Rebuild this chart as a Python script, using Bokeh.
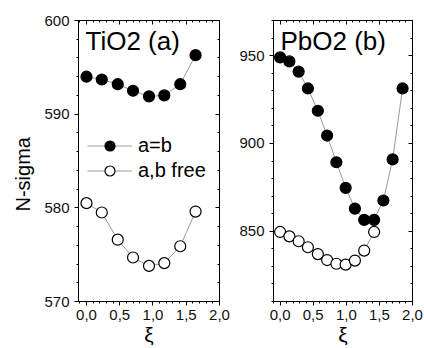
from bokeh.plotting import figure
from bokeh.layouts import row
from bokeh.models import (Range1d, LinearAxis, SingleIntervalTicker, CustomJSTickFormatter,
                          Legend, LegendItem, Label, Title, CustomLabelingPolicy)
from bokeh.embed import file_html
from bokeh.resources import INLINE

# ---- data ----
tio2_xi = [0.0, 0.23, 0.47, 0.70, 0.94, 1.17, 1.41, 1.64]
tio2_ab_equal = [594.0, 593.7, 593.2, 592.5, 591.9, 592.0, 593.2, 596.3]
tio2_ab_free = [580.5, 579.5, 576.6, 574.7, 573.8, 574.1, 575.9, 579.6]

pbo2_xi = [0.0, 0.14, 0.28, 0.42, 0.57, 0.71, 0.85, 0.99, 1.13, 1.27, 1.42, 1.56, 1.70, 1.85]
pbo2_ab_equal = [949.0, 946.7, 940.9, 931.3, 918.6, 904.5, 889.3, 874.7, 862.9, 856.5,
                 856.5, 867.5, 890.9, 931.3]
pbo2_xi_free = pbo2_xi[:11]
pbo2_ab_free = [849.6, 847.1, 844.3, 840.9, 837.0, 833.6, 831.5, 831.0, 833.3, 839.0, 849.6]

panel_titles = ["TiO2 (a)", "PbO2 (b)"]
series_labels = ["a=b", "a,b free"]
y_label = "N-sigma"
x_label = "ξ"

FONT = "Liberation Sans"
comma_fmt = CustomJSTickFormatter(code="return tick.toFixed(1).replace('.', ',');")
no_labels = CustomLabelingPolicy(code="return new Set()")


def style_axes(p, yint):
    for ax in p.xaxis:
        ax.ticker = SingleIntervalTicker(interval=0.5, num_minor_ticks=5)
    for ax in p.yaxis:
        ax.ticker = SingleIntervalTicker(interval=yint, num_minor_ticks=5)
    for ax in p.axis:
        ax.axis_line_color = "black"
        ax.major_tick_line_color = "black"
        ax.minor_tick_line_color = "black"
        ax.major_label_text_font = FONT
        ax.major_label_text_font_size = "15px"
        ax.major_label_text_color = "#111111"
        ax.major_tick_in = 0
        ax.major_tick_out = 4
        ax.minor_tick_in = 0
        ax.minor_tick_out = 2
        ax.major_label_standoff = 5
    p.xaxis[0].major_label_standoff = 4
    p.xaxis[0].formatter = comma_fmt
    p.xaxis[0].axis_label = x_label
    p.xaxis[0].axis_label_text_font = FONT
    p.xaxis[0].axis_label_text_font_size = "21px"
    p.xaxis[0].axis_label_text_font_style = "normal"
    p.xaxis[0].axis_label_text_color = "black"
    p.xaxis[0].axis_label_standoff = 0
    # mirrored axes: ticks only
    top = LinearAxis(ticker=SingleIntervalTicker(interval=0.5, num_minor_ticks=5))
    right = LinearAxis(ticker=SingleIntervalTicker(interval=yint, num_minor_ticks=5))
    for ax in (top, right):
        ax.major_label_text_font_size = "0px"
        ax.major_label_policy = no_labels
        ax.major_label_standoff = 0
        ax.major_tick_in = 4
        ax.major_tick_out = 0
        ax.minor_tick_in = 2
        ax.minor_tick_out = 0
        ax.axis_line_color = "black"
    p.add_layout(top, "above")
    p.add_layout(right, "right")


def make_panel(width, xr, yr, yint, borders):
    p = figure(width=width, height=348, output_backend="svg", toolbar_location=None,
               x_range=Range1d(*xr), y_range=Range1d(*yr))
    p.min_border_left, p.min_border_right, p.min_border_top, p.min_border_bottom = borders
    p.grid.visible = False
    p.outline_line_color = "black"
    p.background_fill_color = "white"
    p.border_fill_color = "white"
    style_axes(p, yint)
    return p


def add_series(p, x, y, filled):
    l = p.line(x, y, line_color="#9a9a9a", line_width=1)
    s = p.scatter(x, y, size=11, marker="circle", line_color="black", line_width=1.2,
                  fill_color="black" if filled else "white")
    return [l, s]


p1 = make_panel(232, (-0.12, 2.0), (570, 600), 10, (78, 13, 20, 46))
r1 = add_series(p1, tio2_xi, tio2_ab_equal, True)
r2 = add_series(p1, tio2_xi, tio2_ab_free, False)
leg = Legend(items=[LegendItem(label=series_labels[0], renderers=r1),
                    LegendItem(label=series_labels[1], renderers=r2)],
             location=(9, 118), glyph_width=45, glyph_height=25, label_height=25,
             spacing=0, padding=0, margin=0, label_standoff=6,
             label_text_font=FONT, label_text_font_size="20px", label_text_color="black",
             background_fill_alpha=0, border_line_alpha=0)
p1.add_layout(leg, "center")

p2 = make_panel(192, (-0.1, 2.0), (810, 970), 50, (41, 12, 20, 46))
add_series(p2, pbo2_xi, pbo2_ab_equal, True)
add_series(p2, pbo2_xi_free, pbo2_ab_free, False)

for p, t in ((p1, panel_titles[0]), (p2, panel_titles[1])):
    p.add_layout(Label(x=7, y=261, x_units="screen", y_units="screen", text=t,
                       text_font=FONT, text_font_size="26px", text_baseline="alphabetic",
                       text_color="black"))

p1.add_layout(Title(text=y_label, align="left", offset=90, text_font=FONT,
                    text_font_size="20px", text_font_style="normal", standoff=16,
                    text_color="black"), "left")

layout = row(p1, p2)
open("out.html", "w").write(file_html(layout, INLINE))
